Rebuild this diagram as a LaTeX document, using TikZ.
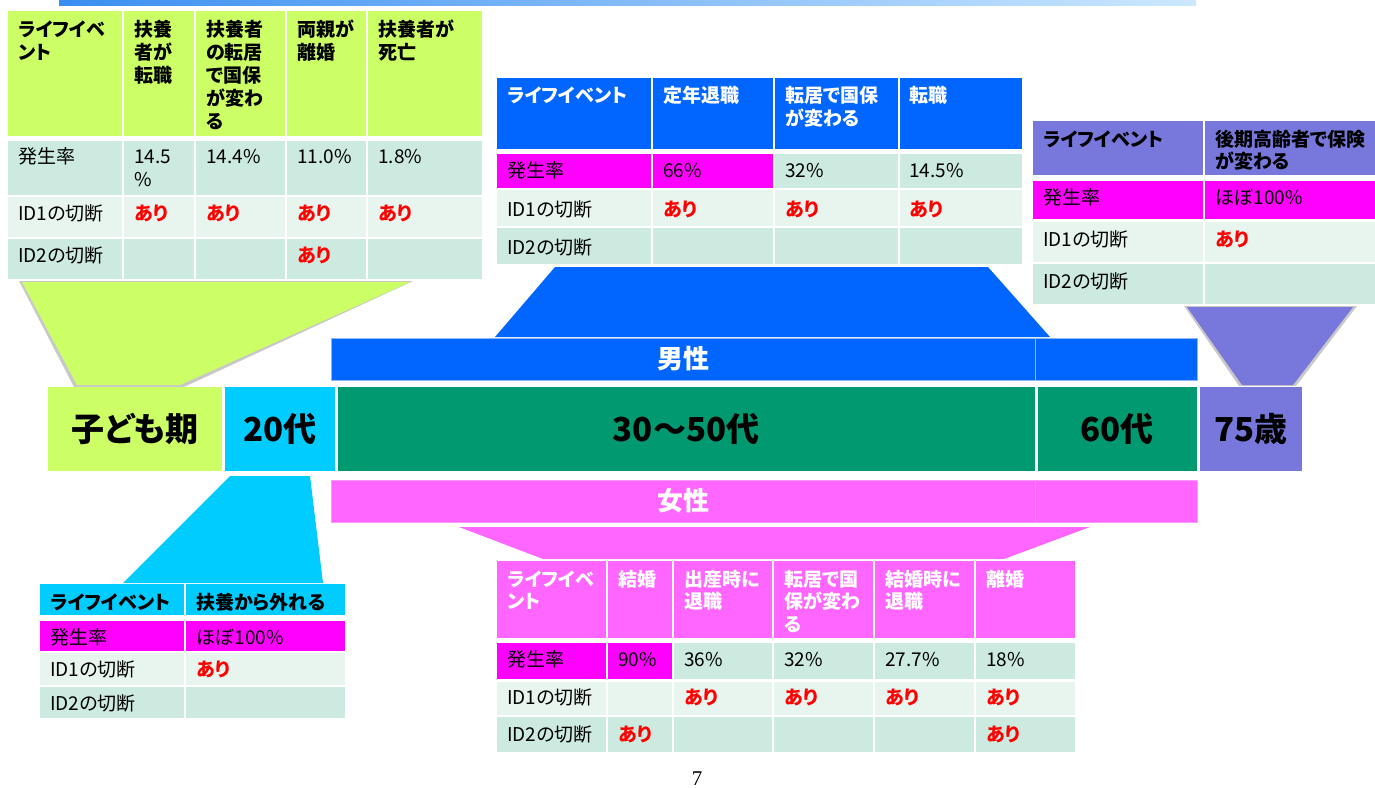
\documentclass[tikz,border=0pt]{standalone}
\usepackage{fontspec}
\setmainfont{Noto Sans CJK JP}[RawFeature=+palt]
\newfontfamily\pgnum{Liberation Serif}
\definecolor{cLime}{HTML}{CCFF66}
\definecolor{cCyan}{HTML}{00CCFF}
\definecolor{cTeal}{HTML}{009970}
\definecolor{cPurple}{HTML}{7878DC}
\definecolor{cBlue}{HTML}{0066FF}
\definecolor{cPink}{HTML}{FF66FF}
\definecolor{cMag}{HTML}{FF00FF}
\definecolor{cMintD}{HTML}{CCEADF}
\definecolor{cMintL}{HTML}{E8F5EE}
\definecolor{cRed}{HTML}{FF0000}
\definecolor{cShadow}{HTML}{C8C8C8}
\definecolor{cBarL}{HTML}{3A8EF0}
\definecolor{cBarR}{HTML}{CCE8FF}
\definecolor{cBarLine}{HTML}{8DB8F5}
\definecolor{cPinkLine}{HTML}{FF99FF}
\newcounter{nd}
\newcommand{\tx}[4]{\stepcounter{nd}\node[#3,anchor=base west] (n\arabic{nd}) at (#1,#2) {#4};}
\tikzset{
  bd/.style={font=\fontsize{19}{22}\selectfont, inner sep=0pt, text=black},
  hd/.style={font=\fontsize{19}{22}\selectfont\bfseries, inner sep=0pt, text=black},
  hw/.style={hd, text=white},
  ar/.style={hd, text=cRed},
  band/.style={font=\fontsize{33}{36}\selectfont\bfseries, inner sep=0pt, text=black},
  sexlbl/.style={font=\fontsize{26}{30}\selectfont\bfseries, text=white, inner sep=0pt},
}
\begin{document}
\begin{tikzpicture}[x=1pt,y=-1pt]
\useasboundingbox (0,0) rectangle (1375,787);
\fill[white] (0,0) rectangle (1375,787);

% top gradient bar
\shade[left color=cBarL, right color=cBarR] (59,0) rectangle (1196,5);

% ---------- trapezoids ----------
\fill[cShadow] (19,281) -- (413,281) -- (184,387) -- (74,387) -- cycle;
\fill[cLime] (22,282) -- (410,282) -- (180,385) -- (77,385) -- cycle;
\fill[cBlue] (555,267) -- (988,267) -- (1050,337) -- (495,337) -- cycle;
\fill[cShadow] (1184,306) -- (1357,306) -- (1296,386) -- (1239,386) -- cycle;
\fill[cPurple] (1187,307) -- (1353,307) -- (1293,385) -- (1242,385) -- cycle;
\fill[cCyan] (230,476) -- (310,476) -- (323,583) -- (123,583) -- cycle;
\fill[cPink] (459,527) -- (1090,527) -- (1004,559) -- (543,559) -- cycle;

% ---------- top-left table ----------
\foreach \a/\b in {8/122,124/194,196/285,287/366,368/482}{
  \fill[cLime] (\a,11) rectangle (\b,136);
  \fill[cMintD] (\a,141) rectangle (\b,195);
  \fill[cMintL] (\a,197) rectangle (\b,237);
  \fill[cMintD] (\a,239) rectangle (\b,279);
}
\tx{18}{36}{hd}{ライフイベ}\tx{18}{59}{hd}{ント}
\tx{134}{36}{hd}{扶養}\tx{134}{59}{hd}{者が}\tx{134}{82}{hd}{転職}
\tx{206}{36}{hd}{扶養者}\tx{206}{59}{hd}{の転居}\tx{206}{82}{hd}{で国保}\tx{206}{105}{hd}{が変わ}\tx{206}{128}{hd}{る}
\tx{297}{36}{hd}{両親が}\tx{297}{59}{hd}{離婚}
\tx{378}{36}{hd}{扶養者が}\tx{378}{59}{hd}{死亡}
\tx{18}{163}{bd}{発生率}
\tx{134}{163}{bd}{14.5}\tx{134}{186}{bd}{\%}
\tx{206}{163}{bd}{14.4\%}
\tx{297}{163}{bd}{11.0\%}
\tx{378}{163}{bd}{1.8\%}
\tx{18}{220}{bd}{ID1の切断}
\tx{134}{220}{ar}{あり}\tx{206}{220}{ar}{あり}\tx{297}{220}{ar}{あり}\tx{378}{220}{ar}{あり}
\tx{18}{262}{bd}{ID2の切断}
\tx{297}{262}{ar}{あり}

% ---------- top-middle table ----------
\foreach \a/\b in {497/651,653/773,775/898,900/1022}{
  \fill[cBlue] (\a,78) rectangle (\b,149);
  \fill[cMintL] (\a,190) rectangle (\b,226);
  \fill[cMintD] (\a,228) rectangle (\b,264);
}
\fill[cMag] (497,154) rectangle (651,188);
\fill[cMag] (653,154) rectangle (773,188);
\fill[cMintD] (775,154) rectangle (898,188);
\fill[cMintD] (900,154) rectangle (1022,188);
\tx{507}{102}{hw}{ライフイベント}
\tx{663}{102}{hw}{定年退職}
\tx{785}{102}{hw}{転居で国保}\tx{785}{125}{hw}{が変わる}
\tx{909}{102}{hw}{転職}
\tx{507}{177}{bd}{発生率}\tx{663}{177}{bd}{66\%}\tx{785}{177}{bd}{32\%}\tx{909}{177}{bd}{14.5\%}
\tx{507}{216}{bd}{ID1の切断}\tx{663}{216}{ar}{あり}\tx{785}{216}{ar}{あり}\tx{909}{216}{ar}{あり}
\tx{507}{254}{bd}{ID2の切断}

% ---------- top-right table ----------
\foreach \a/\b in {1033/1203,1205/1375}{
  \fill[cPurple] (\a,121) rectangle (\b,175);
  \fill[cMag] (\a,181) rectangle (\b,219);
  \fill[cMintL] (\a,222) rectangle (\b,262);
  \fill[cMintD] (\a,264) rectangle (\b,304);
}
\tx{1043}{146}{hd}{ライフイベント}
\tx{1215}{146}{hd}{後期高齢者で保険}\tx{1215}{168}{hd}{が変わる}
\tx{1043}{204}{bd}{発生率}\tx{1215}{204}{bd}{ほぼ100\%}
\tx{1043}{246}{bd}{ID1の切断}\tx{1215}{246}{ar}{あり}
\tx{1043}{288}{bd}{ID2の切断}

% ---------- gender bars ----------
\fill[cBlue] (331,338) rectangle (1197,380);
\draw[cBarLine, line width=0.8pt] (331,338) rectangle (1197,380);
\draw[cBarLine, line width=0.8pt] (1035,338) -- (1035,380);
\node[sexlbl] (male) at (683,359) {男性};
\fill[cPink] (331,480) rectangle (1197,522);
\draw[cPinkLine, line width=0.8pt] (331,480) rectangle (1197,522);
\draw[cBarLine, line width=0.8pt] (1035,480) -- (1035,522);
\node[sexlbl] (female) at (683,501) {女性};

% ---------- age band ----------
\fill[cLime] (48,387) rectangle (222,471);
\fill[cCyan] (225,387) rectangle (335,471);
\fill[cTeal] (338,387) rectangle (1035,471);
\fill[cTeal] (1038,387) rectangle (1197,471);
\fill[cPurple] (1200,387) rectangle (1302,471);
\node[band] (child) at (135,429) {子ども期};
\node[band] (a20) at (280,429) {20代};
\node[band] (a30) at (686,429) {30～50代};
\node[band] (a60) at (1117,429) {60代};
\node[band] (a75) at (1251,429) {75歳};

% ---------- bottom-left table ----------
\foreach \a/\b in {40/184,186/345}{
  \fill[cCyan] (\a,584) rectangle (\b,615);
  \fill[cMag] (\a,621) rectangle (\b,651);
  \fill[cMintL] (\a,653) rectangle (\b,685);
  \fill[cMintD] (\a,687) rectangle (\b,718);
}
\tx{50}{609}{hd}{ライフイベント}\tx{196}{609}{hd}{扶養から外れる}
\tx{50}{644}{bd}{発生率}\tx{196}{644}{bd}{ほぼ100\%}
\tx{50}{676}{bd}{ID1の切断}\tx{196}{676}{ar}{あり}
\tx{50}{710}{bd}{ID2の切断}

% ---------- bottom-middle table ----------
\foreach \a/\b in {497/606,608/672,674/772,774/873,875/974,976/1075}{
  \fill[cPink] (\a,561) rectangle (\b,638);
  \fill[cMintD] (\a,643) rectangle (\b,679);
  \fill[cMintL] (\a,682) rectangle (\b,715);
  \fill[cMintD] (\a,717) rectangle (\b,752);
}
\fill[cMag] (497,643) rectangle (606,679);
\fill[cMag] (608,643) rectangle (672,679);
\tx{507}{586}{hw}{ライフイベ}\tx{507}{608.5}{hw}{ント}
\tx{618}{586}{hw}{結婚}
\tx{684}{586}{hw}{出産時に}\tx{684}{608.5}{hw}{退職}
\tx{784}{586}{hw}{転居で国}\tx{784}{608.5}{hw}{保が変わ}\tx{784}{631}{hw}{る}
\tx{885}{586}{hw}{結婚時に}\tx{885}{608.5}{hw}{退職}
\tx{986}{586}{hw}{離婚}
\tx{507}{666}{bd}{発生率}\tx{618}{666}{bd}{90\%}\tx{684}{666}{bd}{36\%}\tx{784}{666}{bd}{32\%}\tx{885}{666}{bd}{27.7\%}\tx{986}{666}{bd}{18\%}
\tx{507}{704}{bd}{ID1の切断}\tx{684}{704}{ar}{あり}\tx{784}{704}{ar}{あり}\tx{885}{704}{ar}{あり}\tx{986}{704}{ar}{あり}
\tx{507}{741}{bd}{ID2の切断}\tx{618}{741}{ar}{あり}\tx{986}{741}{ar}{あり}

% page number
\node[font=\pgnum\fontsize{21}{24}\selectfont, anchor=base, inner sep=0pt] (pg) at (697,785) {7};
\end{tikzpicture}
\end{document}
